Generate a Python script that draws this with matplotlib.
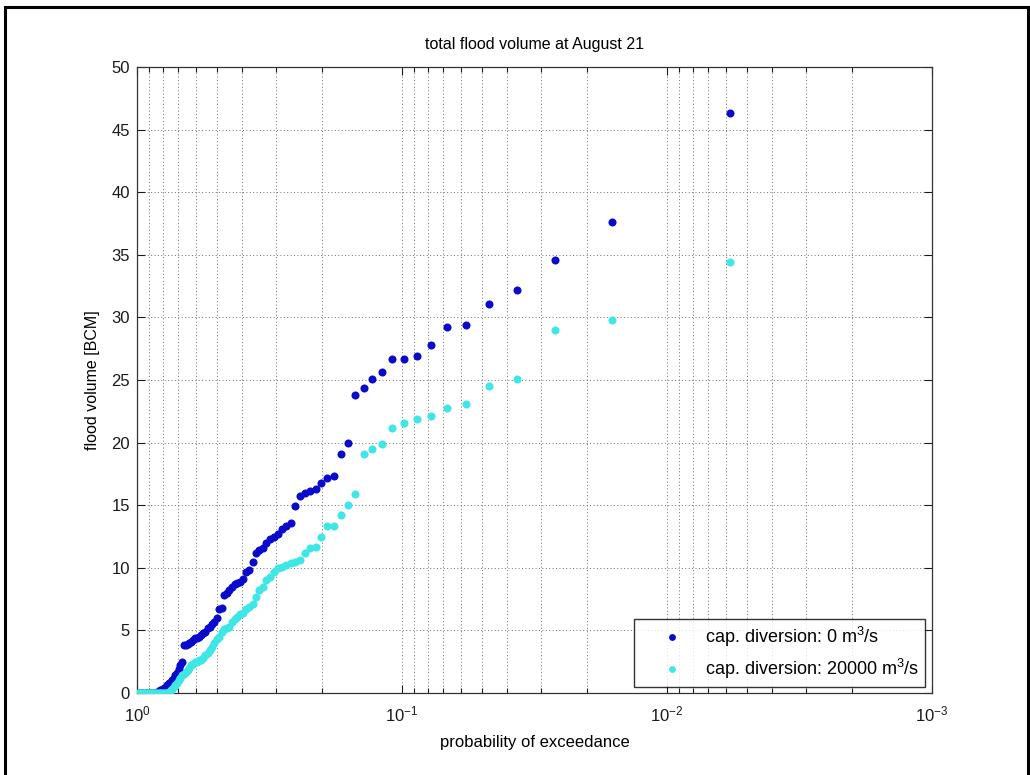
import matplotlib
matplotlib.use("Agg")
import matplotlib.pyplot as plt
from matplotlib.patches import Rectangle
from matplotlib.ticker import LogLocator, NullFormatter

plt.rcParams['font.family'] = ['Liberation Sans', 'DejaVu Sans']
plt.rcParams['mathtext.fontset'] = 'custom'
plt.rcParams['mathtext.rm'] = 'Liberation Sans'

# probability of exceedance (same for both series)
prob = [0.005766, 0.01606, 0.02636, 0.03666, 0.04695, 0.05725, 0.06755, 0.07784,
        0.08814, 0.09844, 0.1087, 0.1190, 0.1293, 0.1396, 0.1499, 0.1602, 0.1705,
        0.1808, 0.1911, 0.2014, 0.2117, 0.2220, 0.2323, 0.2426, 0.2529, 0.2632,
        0.2735, 0.2838, 0.2941, 0.3044, 0.3147, 0.3250, 0.3353, 0.3456, 0.3559,
        0.3662, 0.3765, 0.3868, 0.3971, 0.4074, 0.4176, 0.4279, 0.4382, 0.4485,
        0.4588, 0.4691, 0.4794, 0.4897, 0.5000, 0.5103, 0.5206, 0.5309, 0.5412,
        0.5515, 0.5618, 0.5721, 0.5824, 0.5927, 0.6030, 0.6133, 0.6236, 0.6339,
        0.6442, 0.6545, 0.6648, 0.6751, 0.6854, 0.6957, 0.7059, 0.7162, 0.7265,
        0.7368, 0.7471, 0.7574, 0.7677, 0.7780, 0.7883, 0.7986, 0.8089, 0.8192,
        0.8295, 0.8398, 0.8501, 0.8604, 0.8707, 0.8810, 0.8913, 0.9016, 0.9119,
        0.9222, 0.9325, 0.9428, 0.9531, 0.9634, 0.9736, 0.9839, 0.9942]

# flood volume [BCM], capacity diversion 0 m3/s
vol_0 = [46.3, 37.6, 34.6, 32.2, 31.1, 29.4, 29.2, 27.8, 26.9, 26.7,
         26.7, 25.6, 25.1, 24.4, 23.8, 20.0, 19.1, 17.3, 17.2, 16.8,
         16.3, 16.1, 16.0, 15.7, 14.9, 13.6, 13.3, 13.1, 12.7, 12.5,
         12.3, 12.0, 11.6, 11.4, 11.2, 10.5, 9.8, 9.7, 9.1, 8.9,
         8.8, 8.7, 8.5, 8.2, 8.0, 7.8, 6.8, 6.7, 6.0, 5.7,
         5.5, 5.3, 5.2, 4.9, 4.8, 4.6, 4.5, 4.4, 4.4, 4.2,
         4.1, 4.0, 3.9, 3.8, 3.8, 2.5, 2.2, 1.9, 1.6, 1.4,
         1.2, 1.0, 0.9, 0.8, 0.6, 0.5, 0.4, 0.3, 0.25, 0.2,
         0.1, 0.05, 0.0, 0.0, 0.0, 0.0, 0.0, 0.0, 0.0, 0.0,
         0.0, 0.0, 0.0, 0.0, 0.0, 0.0, 0.0]

# flood volume [BCM], capacity diversion 20000 m3/s
vol_20000 = [34.4, 29.8, 29.0, 25.1, 24.5, 23.1, 22.8, 22.1, 21.9, 21.6,
             21.2, 19.9, 19.5, 19.1, 15.9, 15.0, 14.2, 13.3, 13.3, 12.5,
             11.7, 11.6, 11.2, 10.6, 10.5, 10.4, 10.2, 10.1, 10.0, 9.7,
             9.3, 9.0, 8.5, 8.2, 7.7, 7.1, 6.9, 6.7, 6.4, 6.3,
             6.1, 5.9, 5.7, 5.3, 5.2, 5.1, 4.9, 4.5, 4.3, 4.0,
             3.7, 3.4, 3.2, 3.0, 2.8, 2.6, 2.6, 2.5, 2.5, 2.3,
             2.2, 2.0, 1.8, 1.7, 1.5, 1.4, 1.2, 1.0, 0.8, 0.6,
             0.5, 0.3, 0.2, 0.1, 0.0, 0.0, 0.0, 0.0, 0.0, 0.0,
             0.0, 0.0, 0.0, 0.0, 0.0, 0.0, 0.0, 0.0, 0.0, 0.0,
             0.0, 0.0, 0.0, 0.0, 0.0, 0.0, 0.0]

labels = ['cap. diversion: 0 m$^3$/s', 'cap. diversion: 20000 m$^3$/s']
colors = ['#0a0acc', '#3ee6e6']
title = 'total flood volume at August 21'
xlabel = 'probability of exceedance'
ylabel = 'flood volume [BCM]'

fig = plt.figure(figsize=(10.30, 7.75), dpi=100)
ax = fig.add_axes([137/1030, 1-693/775, (932-137)/1030, (693-67)/775])

ax.plot(prob, vol_0, linestyle='none', marker='o', markersize=5.8,
        color=colors[0], markeredgewidth=0, label=labels[0], zorder=3)
ax.plot(prob, vol_20000, linestyle='none', marker='o', markersize=5.8,
        color=colors[1], markeredgewidth=0, label=labels[1], zorder=3)

ax.set_xscale('log')
ax.set_xlim(1, 1e-3)
ax.set_ylim(0, 50)
ax.set_yticks(range(0, 51, 5))
ax.xaxis.set_major_locator(LogLocator(base=10, numticks=10))
ax.xaxis.set_minor_locator(LogLocator(base=10, subs=range(2, 10), numticks=20))
ax.xaxis.set_minor_formatter(NullFormatter())

gridkw = dict(color='#6e6e6e', linestyle=(0, (1, 2.5)), linewidth=0.7)
ax.grid(True, which='major', axis='both', **gridkw)
ax.grid(True, which='minor', axis='x', **gridkw)
ax.set_axisbelow(True)

ax.tick_params(which='both', direction='in', top=True, right=True,
               labelsize=12, colors='#1a1a1a')
ax.tick_params(axis='x', which='major', pad=8)
ax.tick_params(axis='y', which='major', pad=5)
ax.tick_params(which='major', length=6, width=0.8)
ax.tick_params(which='minor', length=3.5, width=0.8)
for s in ax.spines.values():
    s.set_linewidth(0.9)
    s.set_color('#333333')

ax.set_title(title, fontsize=11.5, pad=13)
ax.set_xlabel(xlabel, fontsize=12, labelpad=8)
ax.set_ylabel(ylabel, fontsize=11.5, labelpad=8)

leg = ax.legend(loc='lower right', bbox_to_anchor=(0.9915, 0.009), fontsize=13,
                frameon=True, fancybox=False, edgecolor='black',
                handlelength=3.5, handletextpad=0.07, borderpad=0.35,
                labelspacing=0.42, borderaxespad=0, markerscale=0.85)
leg.get_frame().set_linewidth(1.0)

fig.patches.append(Rectangle((5/1030, -0.02), (1028-5)/1030, 1-7/775+0.02,
                             transform=fig.transFigure, fill=False,
                             edgecolor='black', linewidth=2.2))

fig.savefig('out.png', dpi=100)
